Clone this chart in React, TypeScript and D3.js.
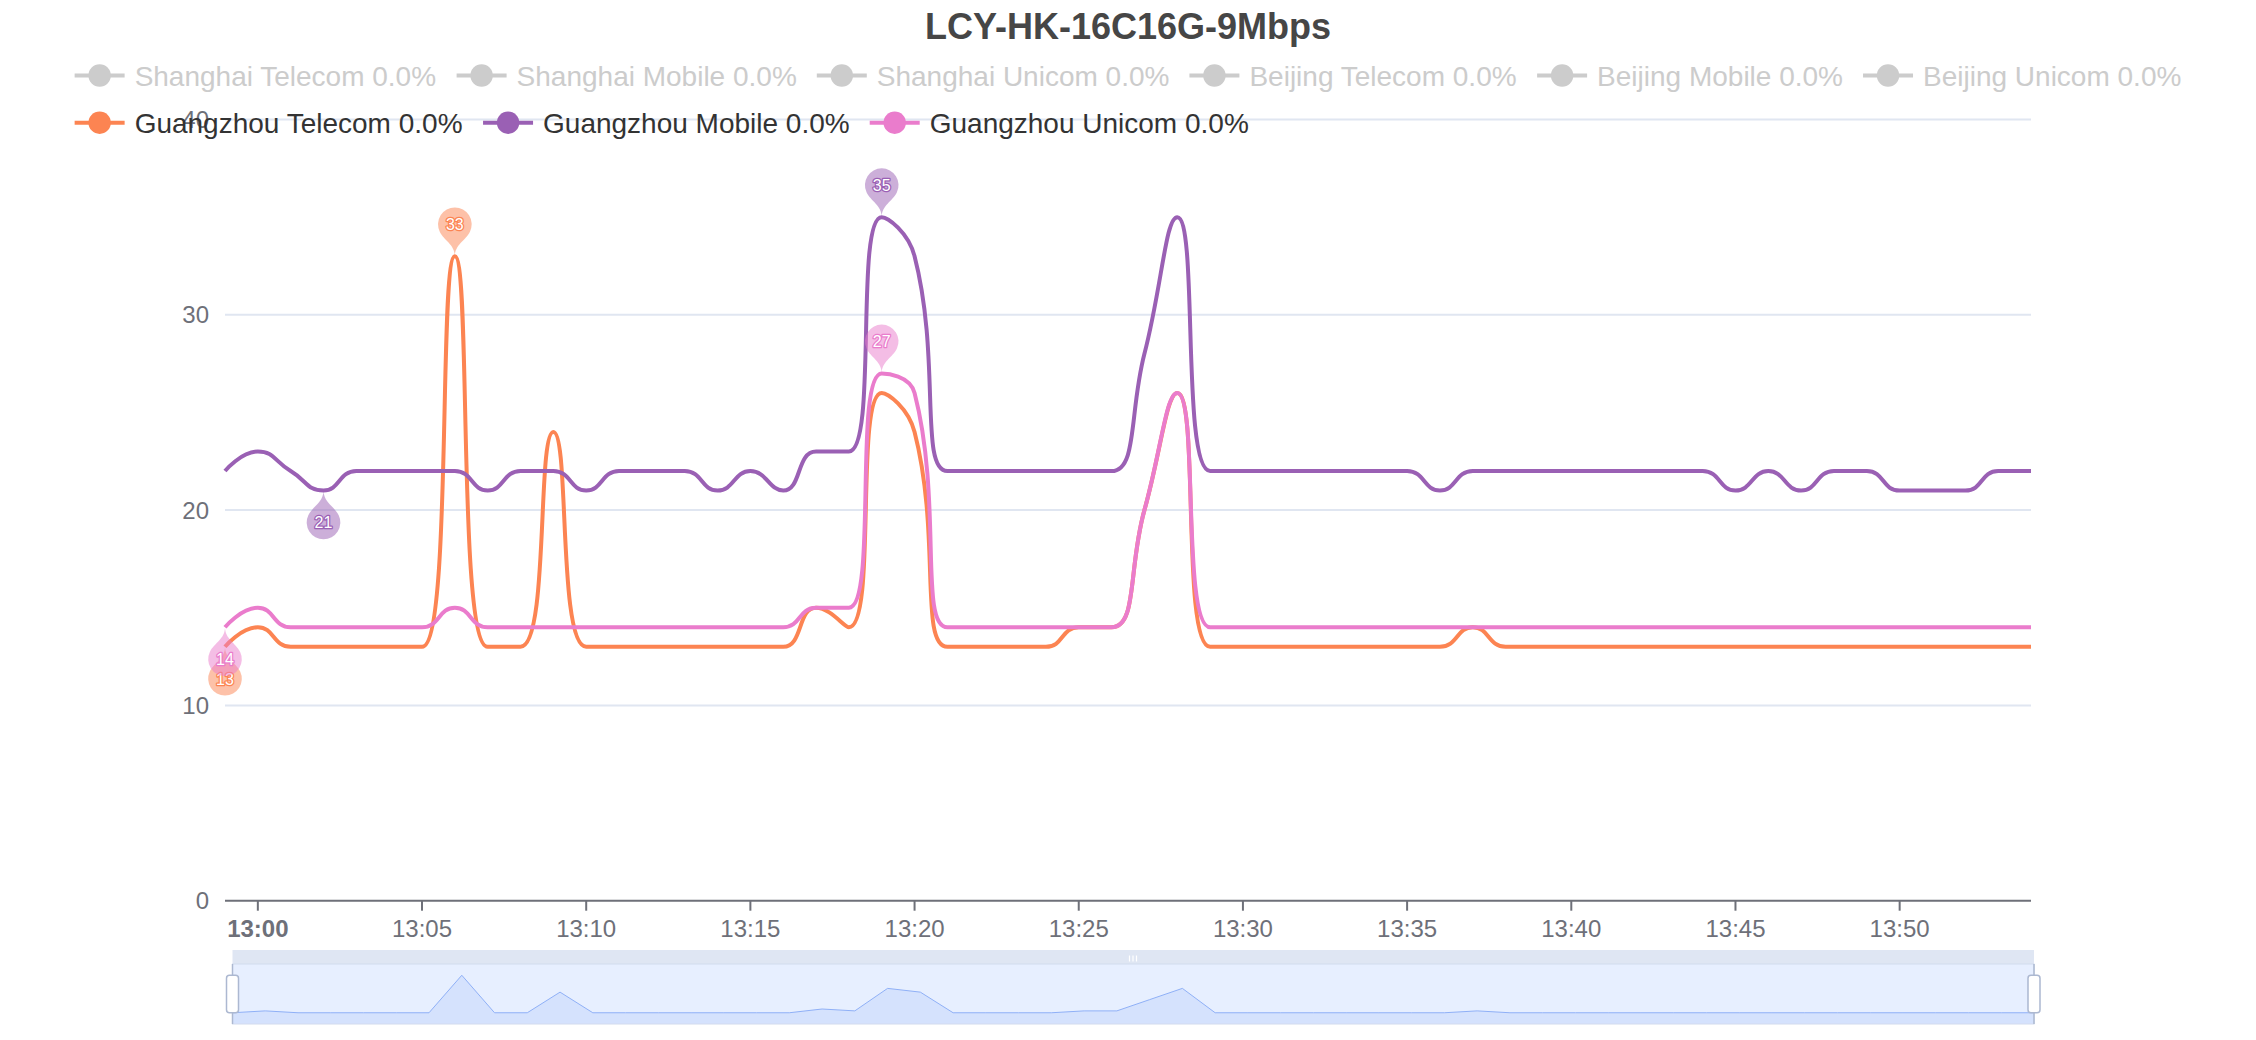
import React, { useMemo } from 'react';
import * as d3 from 'd3';

const TITLE = 'LCY-HK-16C16G-9Mbps';

const TIMES = [
  '12:59', '13:00', '13:01', '13:02', '13:03', '13:04', '13:05', '13:06', '13:07', '13:08',
  '13:09', '13:10', '13:11', '13:12', '13:13', '13:14', '13:15', '13:16', '13:17', '13:18',
  '13:19', '13:20', '13:21', '13:22', '13:23', '13:24', '13:25', '13:26', '13:27', '13:28',
  '13:29', '13:30', '13:31', '13:32', '13:33', '13:34', '13:35', '13:36', '13:37', '13:38',
  '13:39', '13:40', '13:41', '13:42', '13:43', '13:44', '13:45', '13:46', '13:47', '13:48',
  '13:49', '13:50', '13:51', '13:52', '13:53', '13:54',
];

const GZ_TELECOM = [
  13, 14, 13, 13, 13, 13, 13, 33, 13, 13,
  24, 13, 13, 13, 13, 13, 13, 13, 15, 14,
  26, 24, 13, 13, 13, 13, 14, 14, 20, 26,
  13, 13, 13, 13, 13, 13, 13, 13, 14, 13,
  13, 13, 13, 13, 13, 13, 13, 13, 13, 13,
  13, 13, 13, 13, 13, 13,
];

const GZ_MOBILE = [
  22, 23, 22, 21, 22, 22, 22, 22, 21, 22,
  22, 21, 22, 22, 22, 21, 22, 21, 23, 23,
  35, 33, 22, 22, 22, 22, 22, 22, 28, 35,
  22, 22, 22, 22, 22, 22, 22, 21, 22, 22,
  22, 22, 22, 22, 22, 22, 21, 22, 21, 22,
  22, 21, 21, 21, 22, 22,
];

const GZ_UNICOM = [
  14, 15, 14, 14, 14, 14, 14, 15, 14, 14,
  14, 14, 14, 14, 14, 14, 14, 14, 15, 15,
  27, 26, 14, 14, 14, 14, 14, 14, 20, 26,
  14, 14, 14, 14, 14, 14, 14, 14, 14, 14,
  14, 14, 14, 14, 14, 14, 14, 14, 14, 14,
  14, 14, 14, 14, 14, 14,
];

const LEGEND_NAMES = [
  'Shanghai Telecom', 'Shanghai Mobile', 'Shanghai Unicom',
  'Beijing Telecom', 'Beijing Mobile', 'Beijing Unicom',
  'Guangzhou Telecom', 'Guangzhou Mobile', 'Guangzhou Unicom',
];
const LEGEND_PCT = ['0.0%', '0.0%', '0.0%', '0.0%', '0.0%', '0.0%', '0.0%', '0.0%', '0.0%'];
const LEGEND_ACTIVE = [false, false, false, false, false, false, true, true, true];
const PALETTE = ['#5470c6', '#91cc75', '#fac858', '#ee6666', '#73c0de', '#3ba272', '#fc8452', '#9a60b4', '#ea7ccc'];

const SERIES = [
  { name: 'Guangzhou Telecom', values: GZ_TELECOM, color: '#fc8452' },
  { name: 'Guangzhou Mobile', values: GZ_MOBILE, color: '#9a60b4' },
  { name: 'Guangzhou Unicom', values: GZ_UNICOM, color: '#ea7ccc' },
];

const Y_TICKS = [0, 10, 20, 30, 40];

const FONT = "'Liberation Sans', Arial, Helvetica, sans-serif";
const W = 2256;
const H = 1040;

// ECharts-like smooth curve as a d3 curve factory
function curveECharts(context: any) {
  let pts: [number, number][] = [];
  const smooth = 0.5;
  return {
    areaStart() {},
    areaEnd() {},
    lineStart() { pts = []; },
    point(x: number, y: number) { pts.push([+x, +y]); },
    lineEnd() {
      const n = pts.length;
      if (!n) return;
      let prevX = pts[0][0];
      let prevY = pts[0][1];
      context.moveTo(prevX, prevY);
      let cpx0 = prevX;
      let cpy0 = prevY;
      for (let k = 1; k < n; k++) {
        const x = pts[k][0];
        const y = pts[k][1];
        let cpx1: number, cpy1: number;
        let nextCpx0 = x, nextCpy0 = y;
        if (k === n - 1) {
          cpx1 = x; cpy1 = y;
        } else {
          const nextX = pts[k + 1][0];
          const nextY = pts[k + 1][1];
          let vx = nextX - prevX;
          let vy = nextY - prevY;
          const dx0 = x - prevX, dy0 = y - prevY, dx1 = nextX - x, dy1 = nextY - y;
          const lenPrev = Math.sqrt(dx0 * dx0 + dy0 * dy0);
          const lenNext = Math.sqrt(dx1 * dx1 + dy1 * dy1);
          const ratio = lenNext / (lenNext + lenPrev);
          nextCpx0 = x + vx * smooth * ratio;
          nextCpy0 = y + vy * smooth * ratio;
          nextCpx0 = Math.min(nextCpx0, Math.max(nextX, x));
          nextCpy0 = Math.min(nextCpy0, Math.max(nextY, y));
          nextCpx0 = Math.max(nextCpx0, Math.min(nextX, x));
          nextCpy0 = Math.max(nextCpy0, Math.min(nextY, y));
          vx = nextCpx0 - x;
          vy = nextCpy0 - y;
          cpx1 = x - vx * lenPrev / lenNext;
          cpy1 = y - vy * lenPrev / lenNext;
          cpx1 = Math.min(cpx1, Math.max(prevX, x));
          cpy1 = Math.min(cpy1, Math.max(prevY, y));
          cpx1 = Math.max(cpx1, Math.min(prevX, x));
          cpy1 = Math.max(cpy1, Math.min(prevY, y));
          vx = x - cpx1;
          vy = y - cpy1;
          nextCpx0 = x + vx * lenNext / lenPrev;
          nextCpy0 = y + vy * lenNext / lenPrev;
        }
        context.bezierCurveTo(cpx0, cpy0, cpx1, cpy1, x, y);
        cpx0 = nextCpx0;
        cpy0 = nextCpy0;
        prevX = x;
        prevY = y;
      }
    },
  };
}

function pinShape(x: number, y: number, S: number) {
  const w = (S / 5) * 3;
  const h = Math.max(w, S);
  const r = w / 2;
  const dy = (r * r) / (h - r);
  const cy = y - h + r + dy;
  const angle = Math.asin(dy / r);
  const dx = Math.cos(angle) * r;
  const tanX = Math.sin(angle);
  const tanY = Math.cos(angle);
  const cpLen = r * 0.6;
  const cpLen2 = r * 0.7;
  const p = d3.path();
  p.moveTo(x - dx, cy + dy);
  p.arc(x, cy, r, Math.PI - angle, Math.PI * 2 + angle);
  p.bezierCurveTo(x + dx - tanX * cpLen, cy + dy + tanY * cpLen, x, y - cpLen2, x, y);
  p.bezierCurveTo(x, y - cpLen2, x - dx + tanX * cpLen, cy + dy + tanY * cpLen, x - dx, cy + dy);
  p.closePath();
  return { d: p.toString(), off: y - cy };
}

let measureCtx: CanvasRenderingContext2D | null = null;
function textWidth(t: string, font: string) {
  if (!measureCtx) measureCtx = document.createElement('canvas').getContext('2d');
  measureCtx!.font = font;
  return measureCtx!.measureText(t).width;
}

export default function App() {
  const parse = d3.timeParse('%H:%M');
  const dates = TIMES.map((t) => parse(t) as Date);

  const plotLeft = 225;
  const plotRight = 2031;
  const yScale = d3.scaleLinear().domain([0, 40]).range([900.7, 119.5]);
  const xScale = d3.scaleTime().domain([dates[0], dates[dates.length - 1]]).range([plotLeft, plotRight]);
  const xTicks = xScale.ticks(d3.timeMinute.every(5) as any);
  const fmt = d3.timeFormat('%H:%M');

  const lineGen = d3
    .line<number>()
    .x((_, i) => xScale(dates[i]))
    .y((d) => yScale(d))
    .curve(curveECharts as any);

  // Legend layout
  const legendFont = `28px ${FONT}`;
  const legend = useMemo(() => {
    const items = LEGEND_NAMES.map((n, i) => {
      const label = `${n} ${LEGEND_PCT[i]}`;
      const tw = textWidth(label, legendFont);
      return { label, w: 50 + 10 + tw, active: LEGEND_ACTIVE[i], color: PALETTE[i] };
    });
    const maxW = W - 40;
    const rows: any[][] = [[]];
    let cur = 0;
    items.forEach((it) => {
      const add = (rows[rows.length - 1].length ? 20 : 0) + it.w;
      if (cur + add > maxW && rows[rows.length - 1].length) {
        rows.push([]);
        cur = 0;
      }
      const row = rows[rows.length - 1];
      const x = cur + (row.length ? 20 : 0);
      row.push({ ...it, x });
      cur = x + it.w;
    });
    const widths = rows.map((r) => {
      const last = r[r.length - 1];
      return last.x + last.w;
    });
    const total = Math.max(...widths);
    const startX = (W - total) / 2;
    return { rows, startX };
  }, []);

  // Data zoom
  const dz = { x0: 232.5, x1: 2034, top: 964, bottom: 1024, mhTop: 950 };
  const shadowData = GZ_TELECOM;
  const ext = d3.extent(shadowData) as [number, number];
  const off = (ext[1] - ext[0]) * 0.3;
  const dzX = d3.scaleLinear().domain([0, shadowData.length - 1]).range([dz.x0, dz.x1]);
  const dzY = d3.scaleLinear().domain([ext[0] - off, ext[1] + off]).range([dz.bottom, dz.top]);
  const shadowArea = d3
    .area<number>()
    .x((_, i) => dzX(i))
    .y0(dz.bottom)
    .y1((d) => dzY(d))(shadowData) as string;
  const shadowLine = d3
    .line<number>()
    .x((_, i) => dzX(i))
    .y((d) => dzY(d))(shadowData) as string;

  const handle = (cx: number, key: string) => {
    const s = (dz.bottom - dz.top) / 40;
    const rTop = dz.top + 7.5 * s;
    const rBot = dz.top + 32.5 * s;
    return (
      <g key={key}>
        <line x1={cx} x2={cx} y1={dz.top} y2={rTop} stroke="#ACB8D1" strokeWidth={1.5} />
        <line x1={cx} x2={cx} y1={rBot} y2={dz.bottom} stroke="#ACB8D1" strokeWidth={1.5} />
        <rect x={cx - 4 * s} y={rTop} width={8 * s} height={rBot - rTop} rx={2 * s} fill="#fff" stroke="#ACB8D1" strokeWidth={1.5} />
      </g>
    );
  };

  const PIN = 56;

  return (
    <svg width={W} height={H} style={{ position: 'absolute', left: 0, top: 0, background: '#fff' }} fontFamily={FONT}>
      <rect x={0} y={0} width={W} height={H} fill="#fff" />
      {/* title */}
      <text x={W / 2} y={38.5} textAnchor="middle" fontSize={36} fontWeight="bold" fill="#464646">
        {TITLE}
      </text>

      {/* grid lines */}
      {Y_TICKS.filter((t) => t > 0).map((t) => (
        <line key={`g${t}`} x1={plotLeft} x2={plotRight} y1={yScale(t)} y2={yScale(t)} stroke="#E0E6F1" strokeWidth={2} />
      ))}
      {/* y labels */}
      {Y_TICKS.map((t) => (
        <text key={`yl${t}`} x={209} y={yScale(t)} dy="0.35em" textAnchor="end" fontSize={24} fill="#6E7079">
          {t}
        </text>
      ))}
      {/* x axis */}
      <line x1={plotLeft} x2={plotRight} y1={yScale(0)} y2={yScale(0)} stroke="#6E7079" strokeWidth={2} />
      {xTicks.map((t, i) => {
        const x = xScale(t);
        const bold = t.getMinutes() === 0;
        return (
          <g key={`xt${i}`}>
            <line x1={x} x2={x} y1={yScale(0)} y2={yScale(0) + 10} stroke="#6E7079" strokeWidth={2} />
            <text x={x} y={936.5} textAnchor="middle" fontSize={24} fill="#6E7079" fontWeight={bold ? 'bold' : 'normal'}>
              {fmt(t)}
            </text>
          </g>
        );
      })}

      {/* series lines */}
      {SERIES.map((s) => (
        <path key={s.name} d={lineGen(s.values) as string} fill="none" stroke={s.color} strokeWidth={4} strokeLinejoin="round" />
      ))}

      {/* mark points */}
      {SERIES.map((s) => {
        const iMax = d3.maxIndex(s.values);
        const iMin = d3.minIndex(s.values);
        const marks = [
          { i: iMax, v: s.values[iMax], flip: false },
          { i: iMin, v: s.values[iMin], flip: true },
        ];
        return (
          <g key={`mp${s.name}`}>
            {marks.map((m, k) => {
              const x = xScale(dates[m.i]);
              const y = yScale(m.v);
              const pin = pinShape(x, y, PIN);
              const ly = m.flip ? y + pin.off : y - pin.off;
              return (
                <g key={k}>
                  <path d={pin.d} fill={s.color} fillOpacity={0.5} transform={m.flip ? `rotate(180 ${x} ${y})` : undefined} />
                  <text
                    x={x}
                    y={ly}
                    dy="0.36em"
                    textAnchor="middle"
                    fontSize={16}
                    fill="#fff"
                    stroke={s.color}
                    strokeWidth={2.5}
                    strokeLinejoin="round"
                    style={{ paintOrder: 'stroke' }}
                  >
                    {m.v}
                  </text>
                </g>
              );
            })}
          </g>
        );
      })}

      {/* legend */}
      {legend.rows.map((row, ri) => {
        const cy = 75.5 + ri * 47.2;
        return (
          <g key={`lr${ri}`}>
            {row.map((it: any, k: number) => {
              const x = legend.startX + it.x;
              const col = it.active ? it.color : '#ccc';
              return (
                <g key={k}>
                  <line x1={x} x2={x + 50} y1={cy} y2={cy} stroke={col} strokeWidth={4} />
                  <circle cx={x + 25} cy={cy} r={11.2} fill={col} />
                  <text x={x + 60} y={cy + 10.5} fontSize={28} fill={it.active ? '#333' : '#ccc'}>
                    {it.label}
                  </text>
                </g>
              );
            })}
          </g>
        );
      })}

      {/* data zoom */}
      <g>
        <rect x={dz.x0} y={dz.mhTop} width={dz.x1 - dz.x0} height={dz.top - dz.mhTop} fill="#D2DBEE" fillOpacity={0.7} />
        {[-3.5, 0, 3.5].map((d, i) => (
          <line key={`gr${i}`} x1={1133 + d} x2={1133 + d} y1={955.5} y2={961.5} stroke="#fff" strokeWidth={1.2} />
        ))}
        <rect x={dz.x0} y={dz.top} width={dz.x1 - dz.x0} height={dz.bottom - dz.top} fill="rgb(135,175,255)" fillOpacity={0.2} />
        <path d={shadowArea} fill="#8fb0f7" fillOpacity={0.2} />
        <path d={shadowLine} fill="none" stroke="#8fb0f7" strokeWidth={1} />
        <rect x={dz.x0} y={dz.top} width={dz.x1 - dz.x0} height={dz.bottom - dz.top} fill="none" stroke="#d2dbee" strokeWidth={1} />
        {handle(dz.x0, 'h0')}
        {handle(dz.x1, 'h1')}
      </g>
    </svg>
  );
}
